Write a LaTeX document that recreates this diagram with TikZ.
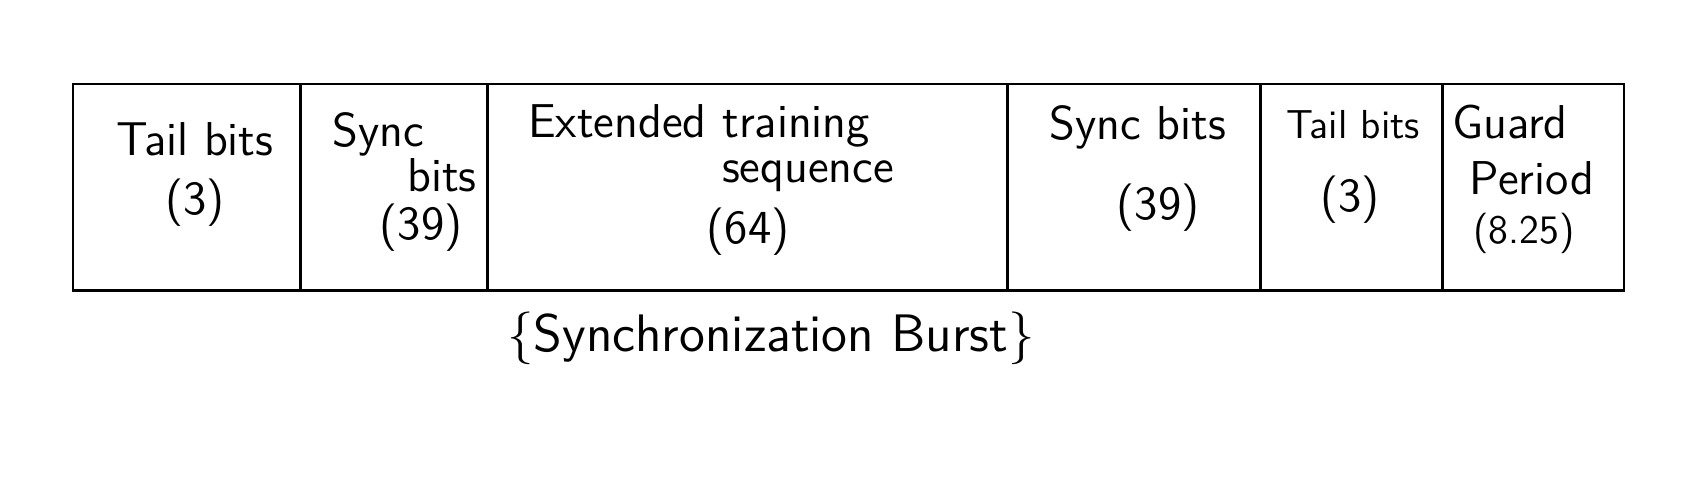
\documentclass[tikz,border=0pt]{standalone}
\usetikzlibrary{positioning}
\begin{document}
\begin{tikzpicture}[x=0.01cm,y=-0.01cm]

	\tikzstyle{cell} = [rectangle, draw=black, line width=0.8pt, minimum height=2.06cm, inner sep=0pt, outer sep=0pt]
	\tikzstyle{lbl} = [font=\sffamily\fontsize{13.5}{16}\selectfont, inner sep=0pt]
	\tikzstyle{small} = [font=\sffamily\fontsize{11.5}{14}\selectfont, inner sep=0pt]
	\tikzstyle{brace} = [font=\sffamily\fontsize{15}{18}\selectfont, inner sep=1pt]

	\useasboundingbox (0,0) rectangle (1700,490);

	% burst fields
	\node (tail1) [cell, minimum width=2.27cm, anchor=north west] at (73,84) {};
	\node (sync1) [cell, minimum width=1.87cm, right=0pt of tail1] {};
	\node (ets) [cell, minimum width=5.20cm, right=0pt of sync1] {};
	\node (sync2) [cell, minimum width=2.53cm, right=0pt of ets] {};
	\node (tail2) [cell, minimum width=1.82cm, right=0pt of sync2] {};
	\node (guard) [cell, minimum width=1.81cm, right=0pt of tail2] {};

	% field labels
	\node (tail1lbl) [lbl] at (195,139) {Tail bits};
	\node (tail1num) [lbl] at (195,203) {(3)};
	\node (sync1lbl) [lbl] at (378,134) {Sync};
	\node (sync1lblb) [lbl] at (442,175) {bits};
	\node (sync1num) [lbl] at (421,228) {(39)};
	\node (etslbl) [lbl] at (699,126) {Extended training};
	\node (etslblb) [lbl] at (808,176) {sequence};
	\node (etsnum) [lbl] at (748,232) {(64)};
	\node (sync2lbl) [lbl] at (1138,127) {Sync bits};
	\node (sync2num) [lbl] at (1158,208) {(39)};
	\node (tail2lbl) [small] at (1353,125) {Tail bits};
	\node (tail2num) [lbl] at (1350,200) {(3)};
	\node (guardlbl) [lbl] at (1510,122) {Guard};
	\node (guardlblb) [lbl] at (1532,178) {Period};
	\node (guardnum) [small] at (1524,233) {(8.25)};

	\node (burst) [brace] at (771,338) {\{Synchronization Burst\}};

\end{tikzpicture}
\end{document}
